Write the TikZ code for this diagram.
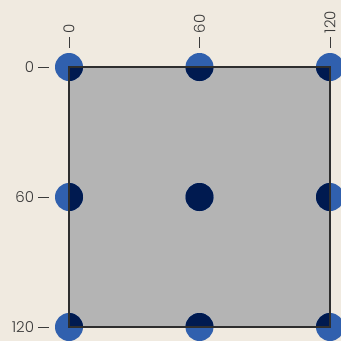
\documentclass[tikz,border=0pt]{standalone}
\usepackage{fontspec}
\setmainfont{Poppins}[UprightFont=* Light]
\usetikzlibrary{positioning}
\definecolor{paper}{HTML}{F0EAE0}
\definecolor{field}{HTML}{B4B4B4}
\definecolor{dotblue}{HTML}{3060AE}
\definecolor{dotnavy}{HTML}{001A50}
\definecolor{ink}{HTML}{3A3A3A}

\begin{document}
\begin{tikzpicture}[
	x=1pt, y=-1pt,
	every node/.style={font=\fontsize{15}{18}\selectfont, text=ink},
	square/.style={fill=field, minimum width=261pt, minimum height=260pt, inner sep=0pt, outer sep=0pt},
	dot/.style={circle, fill=dotblue, minimum size=28pt, inner sep=0pt, outer sep=0pt},
	tick/.style={draw=ink, line width=1pt},
	lbl/.style={inner sep=0pt, outer sep=0pt}
	]
	
	%--- background ---
	\fill[paper] (0,0) rectangle (341,341);
	\useasboundingbox (0,0) rectangle (341,341);
	
	%--- gray field ---
	\node[square] (F) at (199.5,197) {};
	
	%--- dots ---
	\foreach \i/\x in {0/69,1/199.5,2/330}
	\foreach \j/\y in {0/67,1/197,2/327}
	\node[dot] (d\i\j) at (\x,\y) {};
	
	% part of each dot inside the field
	\begin{scope}
		\clip (F.south west) rectangle (F.north east);
		\foreach \i in {0,1,2}
		\foreach \j in {0,1,2}
		\fill[dotnavy] (d\i\j.center) circle[radius=14pt];
	\end{scope}
	
	\draw[draw=ink!80!black, line width=1.2pt] (F.south west) rectangle (F.north east);
	
	%--- axis labels and ticks ---
	\foreach \k/\t in {0/0,1/60,2/120}{
		\node[lbl, anchor=east] (yl\k) at ([xshift=-35pt]d0\k.center) {\t};
		\draw[tick] ([xshift=4pt]yl\k.east) -- ([xshift=-20pt]d0\k.center);
		\node[lbl, anchor=west, rotate=90] (xl\k) at ([yshift=34pt]d\k0.center) {\t};
		\draw[tick] ([yshift=-4pt]xl\k.west) -- ([yshift=19pt]d\k0.center);
	}
	
\end{tikzpicture}
\end{document}
